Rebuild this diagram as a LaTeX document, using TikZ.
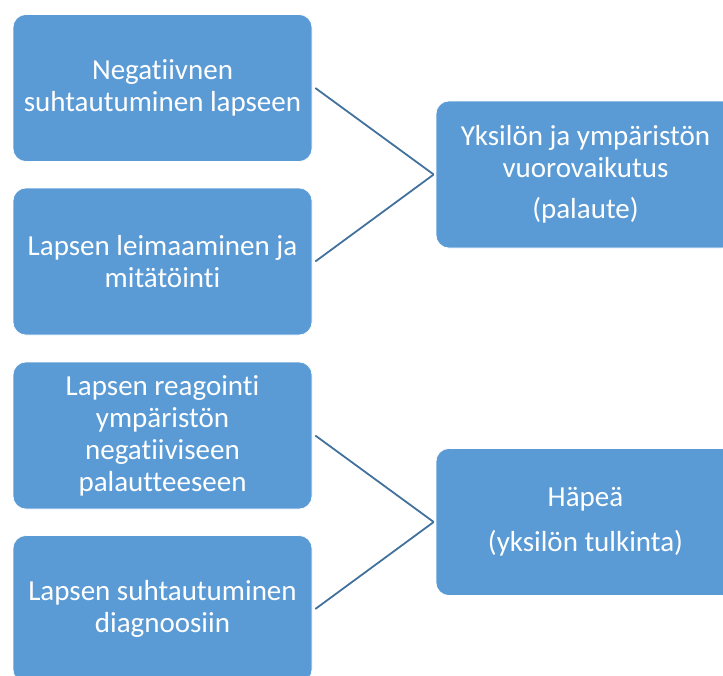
\documentclass[tikz,border=0pt]{standalone}
\usepackage{fontspec}
\setmainfont[Ligatures=NoCommon,RawFeature={-liga;-dlig}]{Carlito}
\definecolor{boxblue}{HTML}{5B9BD5}
\definecolor{linkblue}{HTML}{41719C}
\begin{document}
\begin{tikzpicture}[x=1pt,y=-1pt,
  card/.style={fill=boxblue, draw=white, line width=0.6pt, rounded corners=13pt,
    minimum width=299pt, minimum height=147pt, inner sep=0pt, text=white,
    align=center, font=\fontsize{29}{32}\selectfont},
  link/.style={draw=linkblue, line width=1.8pt}]
\useasboundingbox (0,0) rectangle (723,675);
% left column
\node[card] (neg)  at (162.5,88)  {Negatiivnen\\suhtautuminen lapseen};
\node[card] (leim) at (162.5,261.5) {Lapsen leimaaminen ja\\mitätöinti};
\node[card] (reag) at (162.5,435.5) {Lapsen reagointi\\ympäristön\\negatiiviseen\\palautteeseen};
\node[card] (diag) at (162.5,609) {Lapsen suhtautuminen\\diagnoosiin};
% right column
\node[card] (vuor) at (585.5,174.5) {Yksilön ja ympäristön\\vuorovaikutus\\[9pt](palaute)};
\node[card] (hape) at (585.5,522) {Häpeä\\[13pt](yksilön tulkinta)};
% connectors
\draw[link] ([xshift=3pt]neg.east)  -- ([xshift=-2pt]vuor.west);
\draw[link] ([xshift=3pt]leim.east) -- ([xshift=-2pt]vuor.west);
\draw[link] ([xshift=3pt]reag.east) -- ([xshift=-2pt]hape.west);
\draw[link] ([xshift=3pt]diag.east) -- ([xshift=-2pt]hape.west);
\end{tikzpicture}
\end{document}
